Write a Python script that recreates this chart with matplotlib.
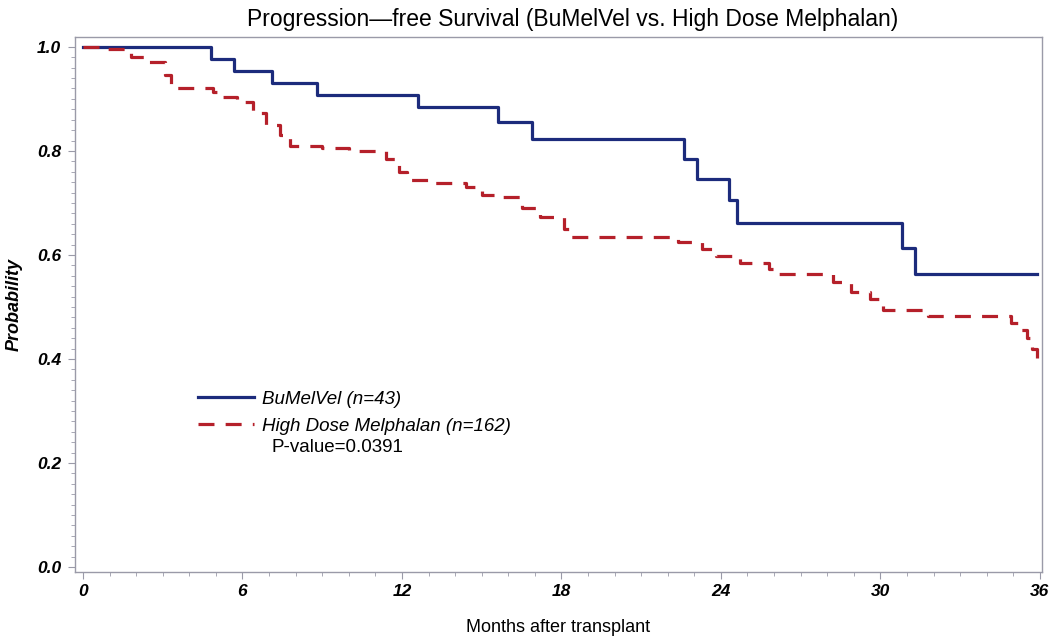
import numpy as np
import matplotlib.pyplot as plt
from matplotlib.ticker import MultipleLocator

plt.rcParams['font.family'] = ['Liberation Sans', 'DejaVu Sans']

# BuMelVel (n=43) Kaplan-Meier steps
bu_time = [0, 4.8, 5.7, 7.1, 8.8, 12.6, 15.6, 16.9, 22.6, 23.1, 24.3, 24.6, 30.8, 31.3, 35.9]
bu_surv = [1.0, 0.977, 0.953, 0.930, 0.907, 0.884, 0.855, 0.823, 0.785, 0.746, 0.706, 0.662, 0.613, 0.563, 0.563]

# High Dose Melphalan (n=162)
hd_time = [0, 0.6, 1.8, 2.4, 3.1, 3.3, 4.9, 5.1, 5.8, 6.4, 6.9, 7.4, 7.8, 9.0, 10.0,
           11.4, 11.9, 12.2, 13.0, 14.4, 15.0, 15.5, 16.5, 17.2, 18.1, 18.3, 22.4, 23.3,
           23.8, 24.7, 25.8, 26.1, 28.2, 28.9, 29.6, 30.1, 31.8, 34.9, 35.3, 35.5, 35.7,
           35.9, 36.0]
hd_surv = [1.0, 0.996, 0.98, 0.971, 0.945, 0.92, 0.914, 0.904, 0.894, 0.873, 0.85, 0.83,
           0.81, 0.805, 0.80, 0.785, 0.76, 0.745, 0.738, 0.73, 0.715, 0.711, 0.69, 0.673,
           0.65, 0.635, 0.625, 0.612, 0.597, 0.585, 0.572, 0.563, 0.548, 0.529, 0.515,
           0.494, 0.483, 0.47, 0.455, 0.44, 0.42, 0.40, 0.40]

x_ticks = [0, 6, 12, 18, 24, 30, 36]
y_ticks = [0.0, 0.2, 0.4, 0.6, 0.8, 1.0]

fig = plt.figure(figsize=(10.5, 6.41), dpi=100)
ax = fig.add_axes([75 / 1050, 1 - 572 / 641, (1042 - 75) / 1050, (572 - 37) / 641])

ax.step(bu_time, bu_surv, where='post', color='#1c2b7c', lw=2.3,
        label='BuMelVel (n=43)')
ax.step(hd_time, hd_surv, where='post', color='#b5202a', lw=2.3,
        dashes=(5, 3.5), label='High Dose Melphalan (n=162)')

ax.set_xlim(-0.3, 36.08)
ax.set_ylim(-0.0096, 1.019)
ax.set_xticks(x_ticks)
ax.set_yticks(y_ticks)
ax.set_yticklabels(['%.1f' % v for v in y_ticks])
ax.xaxis.set_minor_locator(MultipleLocator(1))
ax.yaxis.set_minor_locator(MultipleLocator(0.02))

for s in ax.spines.values():
    s.set_color('#9a9aa8')
    s.set_linewidth(1.0)
ax.tick_params(which='major', length=5, color='#9a9aa8', labelsize=12.5)
ax.tick_params(axis='x', pad=4)
ax.tick_params(axis='y', pad=5)
ax.tick_params(which='minor', length=3, color='#9a9aa8')
for lab in ax.get_xticklabels() + ax.get_yticklabels():
    lab.set_fontstyle('italic')
    lab.set_fontweight('bold')

ax.set_title('Progression\u2014free Survival (BuMelVel vs. High Dose Melphalan)',
             fontsize=16.5, pad=8, x=0.515)
ax.set_xlabel('Months after transplant', fontsize=13, labelpad=14)
ax.set_ylabel('Probability', fontsize=13, fontstyle='italic', fontweight='bold',
              labelpad=10)

leg = ax.legend(loc='upper left', bbox_to_anchor=(0.11, 0.37), frameon=False,
                handlelength=3.0, handletextpad=0.4, labelspacing=0.5,
                prop={'size': 13.5, 'style': 'italic'})

ax.text(0.203, 0.232, 'P-value=0.0391', transform=ax.transAxes, fontsize=13.5,
        va='center', ha='left')

fig.savefig('out.png', dpi=100)
